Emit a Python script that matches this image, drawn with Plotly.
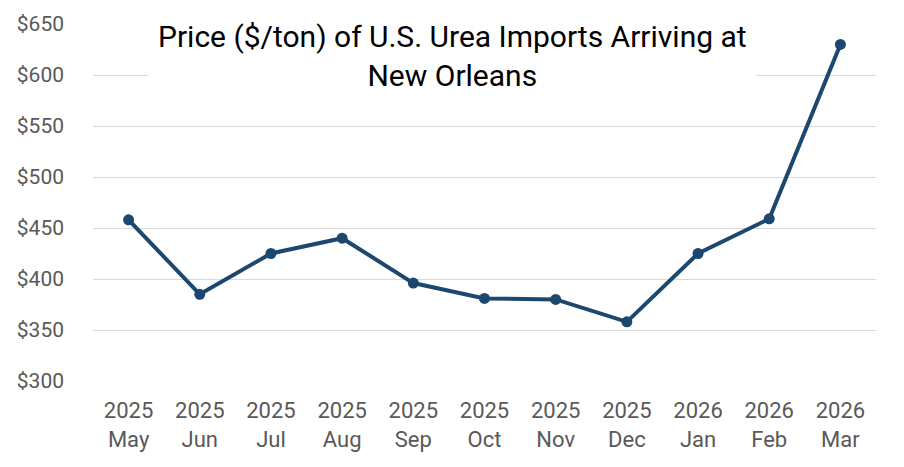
import plotly.graph_objects as go

months = ["May", "Jun", "Jul", "Aug", "Sep", "Oct", "Nov", "Dec", "Jan", "Feb", "Mar"]
years = ["2025", "2025", "2025", "2025", "2025", "2025", "2025", "2025", "2026", "2026", "2026"]
prices = [458, 385, 425, 440, 396, 381, 380, 358, 425, 459, 630]
y_ticks = [300, 350, 400, 450, 500, 550, 600, 650]

categories = [f"{y}<br>{m}" for y, m in zip(years, months)]

fig = go.Figure()
fig.add_trace(go.Scatter(
    x=categories, y=prices, mode="lines+markers",
    line=dict(color="#1c4870", width=4),
    marker=dict(color="#1c4870", size=11),
    hoverinfo="skip", showlegend=False,
))

fig.update_layout(
    width=904, height=467,
    margin=dict(l=93, r=28, t=24, b=86),
    paper_bgcolor="white", plot_bgcolor="white",
    font=dict(family="Roboto", color="#595959", size=21),
    xaxis=dict(type="category", range=[-0.5, 10.5], showgrid=False,
               showline=False, zeroline=False, ticks="",
               ticklabelstandoff=14, tickfont=dict(size=22)),
    yaxis=dict(range=[300, 650], tickvals=y_ticks,
               ticktext=[f"${v}" for v in y_ticks],
               showgrid=True, gridcolor="#d9d9d9", gridwidth=1,
               zeroline=False, showline=False, ticks="",
               ticklabelstandoff=28, tickfont=dict(size=21)),
    annotations=[dict(
        text="Price ($/ton) of U.S. Urea Imports Arriving at<br>New Orleans",
        xref="paper", yref="paper", x=0.4585, y=1.0, xanchor="center", yanchor="top",
        yshift=15,
        showarrow=False,
        font=dict(family="Roboto", size=30, color="#000000"),
        bgcolor="white", borderpad=9,
    )],
)

fig.write_html("out.html")
